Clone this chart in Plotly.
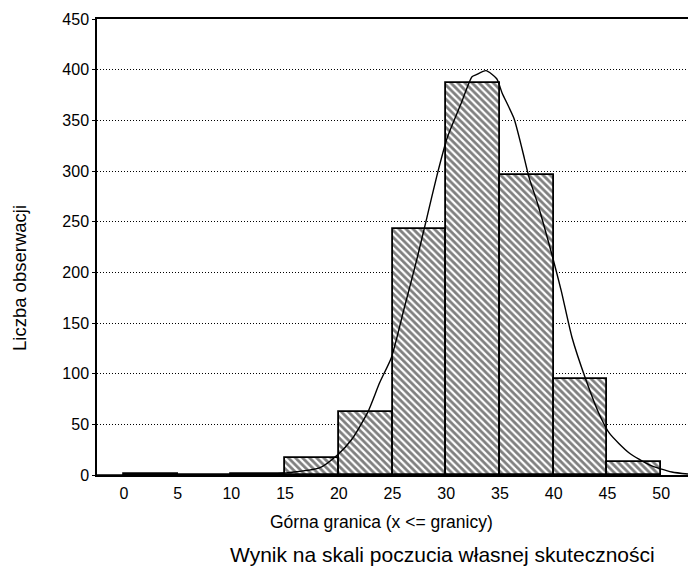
import plotly.graph_objects as go

# Histogram bins (lower bound of each 5-wide bin) and counts
bin_lower = [0, 5, 10, 15, 20, 25, 30, 35, 40, 45]
counts = [1, 0, 1, 17, 62, 243, 387, 296, 95, 13]

# Expected normal curve
curve_x = [-2.5, 0, 5, 10, 13, 15, 18.2, 19.9, 21.2, 22.7, 23.8, 24.9, 26.1, 27.2, 28.2,
           29.1, 30.1, 31.4, 32.4, 32.8, 33.7, 34.7, 35.2, 36.3, 37.1, 37.7, 38.5,
           39.9, 40.7, 41.7, 43.0, 44.2, 45.2, 47.0, 48.9, 51.0, 52.5]
curve_y = [0, 0, 0, 0, 0.5, 2, 7, 20, 35, 62, 91, 116, 165, 210, 254,
           294, 333, 367, 393, 395, 399, 391, 377, 352, 320, 294, 268,
           215, 182, 136, 94, 61, 41, 22, 10, 3, 1]

x_ticks = [0, 5, 10, 15, 20, 25, 30, 35, 40, 45, 50]
y_ticks = [0, 50, 100, 150, 200, 250, 300, 350, 400, 450]

FONT = "Liberation Sans, Arial, sans-serif"
L, R, T, B = 97, 0, 19, 95
W, H = 688, 570

fig = go.Figure()
fig.add_trace(go.Bar(
    x=bin_lower, y=counts, width=5, offset=0,
    marker=dict(color="white",
                line=dict(color="black", width=1.8),
                pattern=dict(shape="\\", fgcolor="black", bgcolor="white",
                             size=5, solidity=0.55)),
    showlegend=False,
))
fig.add_trace(go.Scatter(
    x=curve_x, y=curve_y, mode="lines",
    line=dict(color="black", width=1.4, shape="spline", smoothing=0.6),
    showlegend=False,
))


def px_x(v):
    return (v - L) / (W - L - R)


def px_y(v):
    return (H - v - B) / (H - T - B)


fig.update_layout(
    width=W, height=H,
    margin=dict(l=L, r=R, t=T, b=B),
    paper_bgcolor="white", plot_bgcolor="white",
    font=dict(family=FONT, size=16, color="black"),
    bargap=0,
    xaxis=dict(range=[-2.5, 52.5], tickvals=x_ticks, showgrid=False,
               showline=True, linecolor="black", linewidth=1.5, mirror=True,
               ticks="outside", ticklen=3, tickcolor="rgba(0,0,0,0)",
               zeroline=False, tickfont=dict(size=16)),
    yaxis=dict(range=[0, 450], tickvals=y_ticks, showgrid=True,
               gridcolor="black", griddash="1px,2px", gridwidth=1,
               showline=True, linecolor="black", linewidth=1.5, mirror=False,
               ticks="outside", ticklen=3, tickcolor="black",
               zeroline=False, tickfont=dict(size=16)),
    annotations=[
        dict(text="Górna granica (x <= granicy)", x=px_x(381), y=px_y(522),
             xref="paper", yref="paper", showarrow=False,
             xanchor="center", yanchor="middle",
             font=dict(size=17.5)),
        dict(text="Wynik na skali poczucia własnej skuteczności", x=px_x(442), y=px_y(554),
             xref="paper", yref="paper", showarrow=False,
             xanchor="center", yanchor="middle",
             font=dict(size=21)),
        dict(text="Liczba obserwacji", x=px_x(20), y=px_y(278), textangle=-90,
             xref="paper", yref="paper", showarrow=False,
             xanchor="center", yanchor="middle",
             font=dict(size=18.5)),
    ],
)

fig.write_html("out.html")
